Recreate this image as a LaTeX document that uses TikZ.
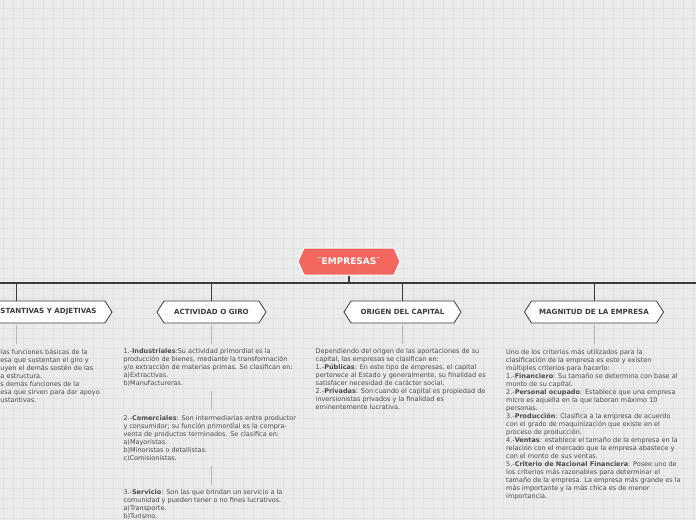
\documentclass[tikz,border=0pt]{standalone}
\usepackage{fontspec}
\setmainfont{DejaVu Sans}
\usetikzlibrary{shapes.symbols}
\definecolor{bg}{HTML}{EBEBEB}
\definecolor{gridc}{HTML}{E1E1E1}
\definecolor{salmon}{HTML}{F2665E}
\definecolor{txt}{HTML}{4B4B4B}
\definecolor{dark}{HTML}{3C3C3C}
\definecolor{lightln}{HTML}{B8B8B8}
\tikzset{
 topbox/.style={signal, signal to=west and east, signal pointer angle=132, fill=salmon, draw=white, line width=1pt, text=white, font=\fontsize{9}{10}\selectfont\bfseries, minimum width=102pt, minimum height=27pt, inner sep=0pt},
 headbox/.style={signal, signal to=west and east, signal pointer angle=115, fill=white, draw=dark, line width=0.8pt, text=dark, font=\fontsize{7.1}{8}\selectfont\bfseries, minimum height=22pt, inner sep=0pt},
 headtext/.style={inner sep=0pt, text=dark, font=\fontsize{7.1}{8}\selectfont\bfseries},
 bodytext/.style={anchor=north west, inner sep=0pt, align=left, text=txt, font=\fontsize{6.5}{8}\selectfont},
 trunk/.style={draw=dark, line width=1.4pt},
 branch/.style={draw=dark, line width=0.9pt},
 stub/.style={draw=lightln, line width=0.8pt},
}
\begin{document}
\begin{tikzpicture}[x=1pt,y=-1pt]
\useasboundingbox (0,0) rectangle (696,520);
\fill[bg] (0,0) rectangle (696,520);
\begin{scope}
\clip (0,0) rectangle (696,520);
\foreach \x in {3,13,...,693} \draw[gridc, line width=0.8pt] (\x,0) -- (\x,520);
\foreach \y in {8,18,...,518} \draw[gridc, line width=0.8pt] (0,\y) -- (696,\y);

\coordinate (mainL) at (0,283);
\coordinate (mainR) at (696,283);

\node[topbox] (emp) at (349,261.5) {¨EMPRESAS¨};
\node[headbox, minimum width=192pt] (h1) at (16,312) {};
\node[headtext, anchor=west] (h1t) at (0.2,312) {STANTIVAS Y ADJETIVAS};
\node[headbox, minimum width=109pt] (h2) at (211.5,312) {ACTIVIDAD O GIRO};
\node[headbox, minimum width=117pt] (h3) at (402.5,312) {ORIGEN DEL CAPITAL};
\node[headbox, minimum width=139pt] (h4) at (594,312) {MAGNITUD DE LA EMPRESA};

\draw[trunk] (mainL) -- (mainR);
\draw[trunk] (emp.south) -- (emp.south |- mainL);
\foreach \h in {h1,h2,h3,h4} \draw[branch] (\h.north |- mainL) -- (\h.north);

\node[bodytext] (t1) at (0.3,348.7) {las funciones básicas de la\\esa que sustentan el giro y\\uyen el demás sostén de las\\a estructura.\\s demás funciones de la\\esa que sirven para dar apoyo\\ustantivas.};

\node[bodytext] (t2a) at (123.3,348.7) {1.-\textbf{Industriales}:Su actividad primordial es la\\producción de bienes, mediante la transformación\\y/o extracción de materias primas. Se clasifican en:\\a)Extractivas.\\b)Manufactureras.};
\node[bodytext] (t2b) at (123.3,415.7) {2.-\textbf{Comerciales}: Son intermediarias entre productor\\y consumidor; su función primordial es la compra-\\venta de productos terminados. Se clasifica en:\\a)Mayoristas.\\b)Minoristas o detallistas.\\c)Comisionistas.};
\node[bodytext] (t2c) at (123.3,489.7) {3.-\textbf{Servicio}: Son las que brindan un servicio a la\\comunidad y pueden tener o no fines lucrativos.\\a)Transporte.\\b)Turismo.};

\node[bodytext] (t3) at (315.5,348.7) {Dependiendo del origen de las aportaciones de su\\capital, las empresas se clasifican en:\\1.-\textbf{Públicas}: En este tipo de empresas, el capital\\pertenece al Estado y generalmente, su finalidad es\\satisfacer necesidad de carácter social.\\2.-\textbf{Privadas}: Son cuando el capital es propiedad de\\inversionistas privados y la finalidad es\\eminentemente lucrativa.};

\node[bodytext] (t4) at (506,348.7) {Uno de los criterios más utilizados para la\\clasificación de la empresa es este y existen\\múltiples criterios para hacerlo:\\1.-\textbf{Financiero}: Su tamaño se determina con base al\\monto de su capital.\\2.-\textbf{Personal ocupado}: Establece que una empresa\\micro es aquella en la que laboran máximo 10\\personas.\\3.-\textbf{Producción}: Clasifica a la empresa de acuerdo\\con el grado de maquinización que existe en el\\proceso de producción.\\4.-\textbf{Ventas}: establece el tamaño de la empresa en la\\relación con el mercado que la empresa abastece y\\con el monto de sus ventas.\\5.-\textbf{Criterio de Nacional Financiera}: Posee uno de\\los criterios más razonables para determinar el\\tamaño de la empresa. La empresa más grande es la\\más importante y la más chica es de menor\\importancia.};

\draw[stub, shorten <=2pt, shorten >=4.5pt] (h1.south) -- (h1.south |- t1.north);
\draw[stub, shorten <=2pt, shorten >=4.5pt] (h2.south) -- (h2.south |- t2a.north);
\draw[stub, shorten <=2pt, shorten >=4.5pt] (h3.south) -- (h3.south |- t3.north);
\draw[stub, shorten <=2pt, shorten >=4.5pt] (h4.south) -- (h4.south |- t4.north);
\draw[stub, shorten <=4.5pt, shorten >=5.5pt] (h2.south |- t2a.south) -- (h2.south |- t2b.north);
\draw[stub, shorten <=4pt, shorten >=4.5pt] (h2.south |- t2b.south) -- (h2.south |- t2c.north);
\end{scope}
\end{tikzpicture}
\end{document}
